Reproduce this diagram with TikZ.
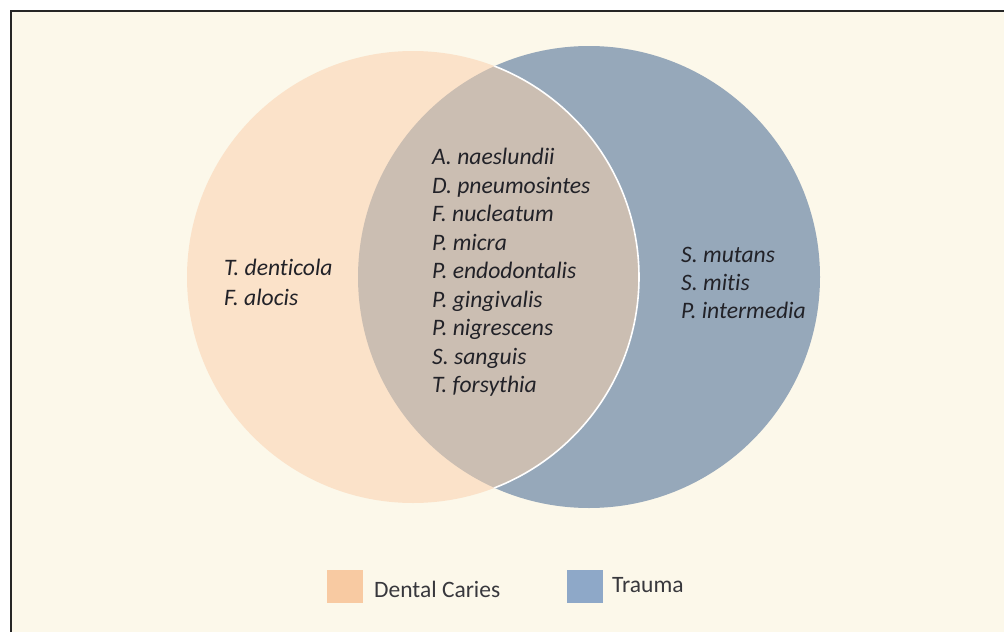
\documentclass[tikz,border=0pt]{standalone}
\usepackage{fontspec}
\setmainfont{Carlito}[Ligatures=NoCommon]
\definecolor{bg}{RGB}{252,248,234}
\definecolor{caries}{RGB}{251,226,201}
\definecolor{trauma}{RGB}{150,168,186}
\definecolor{overlap}{RGB}{203,190,178}
\definecolor{legcaries}{RGB}{248,202,162}
\definecolor{legtrauma}{RGB}{142,168,200}
\definecolor{txt}{RGB}{34,34,40}
\tikzset{
  species/.style={anchor=base west, inner sep=0pt, text=txt, font=\fontsize{23.6}{28}\selectfont\itshape},
  legbox/.style={inner sep=0pt, minimum width=36pt, minimum height=33pt},
  legtext/.style={anchor=base west, inner sep=0pt, text=txt!90, font=\fontsize{23.5}{28}\selectfont}
}
\begin{document}
\begin{tikzpicture}[x=1pt,y=-1pt]
\useasboundingbox (0,0) rectangle (1004,632);
\fill[white] (0,0) rectangle (1004,632);
\fill[bg] (11,11) rectangle (1004,632);
\draw[line width=1.5pt, black!85] (11,632) -- (11,11) -- (1004,11);
% circles
\fill[trauma] (589,277) circle[radius=231pt];
\fill[caries] (413,277) circle[radius=226pt];
\begin{scope}
  \clip (589,277) circle[radius=231pt];
  \fill[overlap] (413,277) circle[radius=226pt];
  \draw[white, line width=1.6pt] (413,277) circle[radius=226pt];
\end{scope}
% left
\node[species] (l1) at (224,275.5) {T. denticola};
\node[species] (l2) at (224,305.5) {F. alocis};
% middle
\foreach \t [count=\i from 0] in {A. naeslundii, D. pneumosintes, F. nucleatum, P. micra, P. endodontalis, P. gingivalis, P. nigrescens, S. sanguis, T. forsythia}
  \node[species] (m\i) at (432,164.5+28.5*\i) {\t};
% right
\node[species] (r1) at (681,262.5) {S. mutans};
\node[species] (r2) at (681,290.5) {S. mitis};
\node[species] (r3) at (681,318.5) {P. intermedia};
% legend
\node[legbox, fill=legcaries] (lc) at (345,586.5) {};
\node[legtext] (lct) at (374,597.5) {Dental Caries};
\node[legbox, fill=legtrauma] (lt) at (585,586.5) {};
\node[legtext] (ltt) at (612,592.5) {Trauma};
\end{tikzpicture}
\end{document}
